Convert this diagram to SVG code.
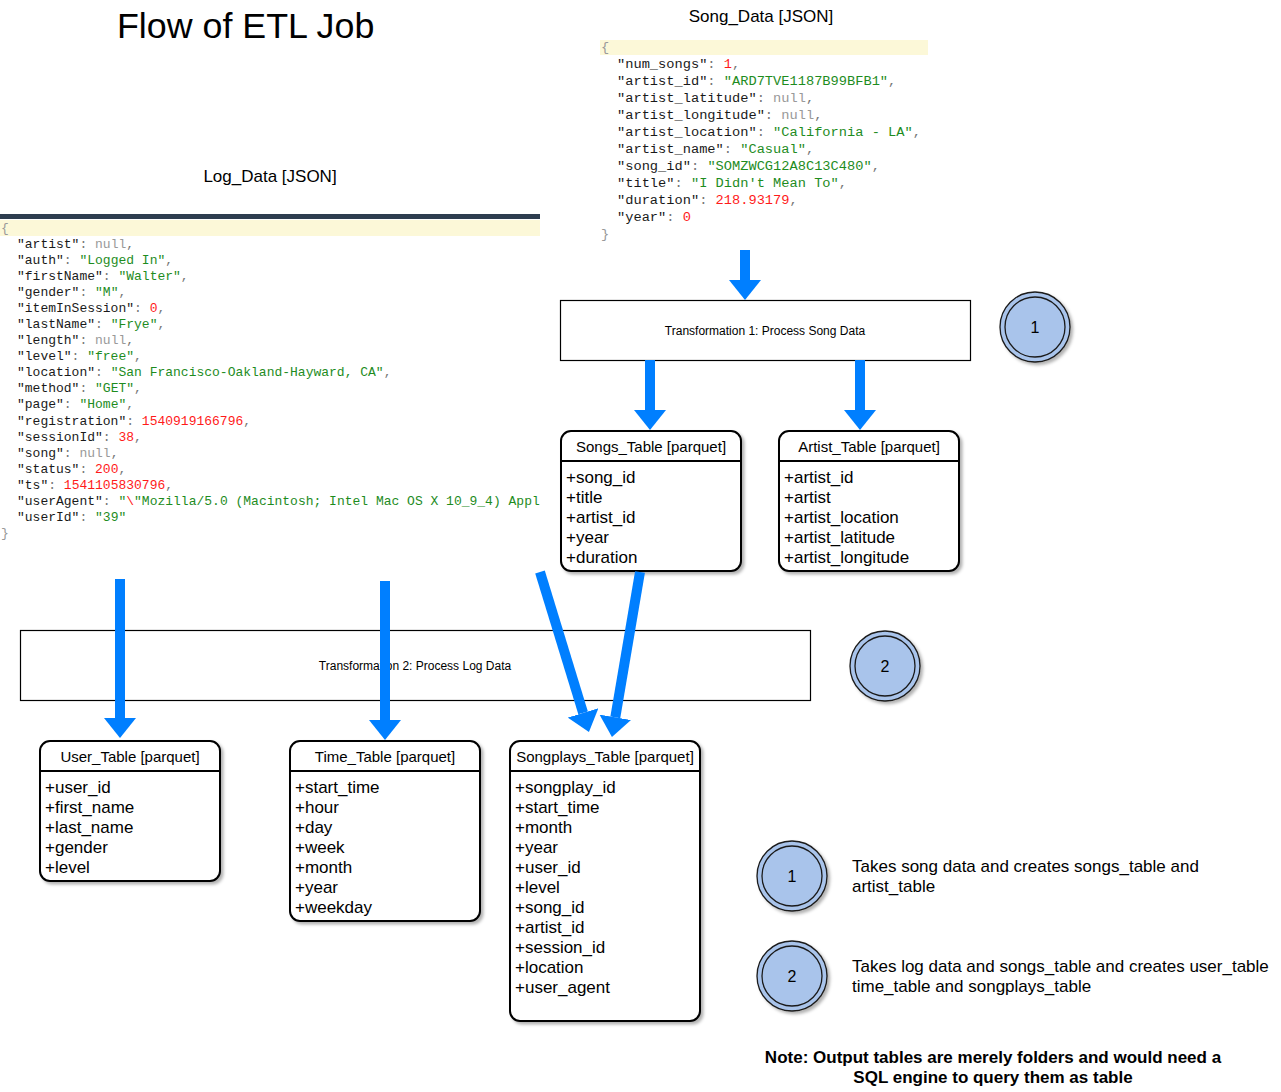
<svg xmlns="http://www.w3.org/2000/svg" width="1281" height="1092" viewBox="0 0 1281 1092">
<style>
.sans{font-family:"Liberation Sans",Arial,sans-serif;fill:#000}
.mono{font-family:"Liberation Mono","DejaVu Sans Mono",monospace;fill:#1a1a1a}
.pu{fill:#777}
.s{fill:#1e8c1e}
.n{fill:#ff1a1a}
.nl{fill:#999}
.br{fill:#999}
.box{fill:#fff;stroke:#000;stroke-width:1.2}
.tbl{fill:#fff;stroke:#000;stroke-width:2}
.hdr{font-family:"Liberation Sans",Arial,sans-serif;font-size:15px;text-anchor:middle;fill:#000}
.fld{font-family:"Liberation Sans",Arial,sans-serif;font-size:17px;fill:#000}
.circ{fill:#a9c4eb;stroke:#1a1a1a;stroke-width:1.3}
.cin{fill:none;stroke:#1a1a1a;stroke-width:1.3}
.num{font-family:"Liberation Sans",Arial,sans-serif;font-size:16px;text-anchor:middle;fill:#000}
.arr{stroke:#007fff;stroke-width:10;fill:none}
</style>
<defs>
<marker id="ah" viewBox="0 0 20 32" refX="0" refY="16" markerWidth="20" markerHeight="32" markerUnits="userSpaceOnUse" orient="auto">
<path d="M0,0 L20,16 L0,32 z" fill="#007fff"/>
</marker>
<filter id="sh" x="-10%" y="-10%" width="130%" height="130%">
<feDropShadow dx="2.5" dy="2.5" stdDeviation="1.5" flood-color="#000" flood-opacity="0.3"/>
</filter>
<clipPath id="logclip"><rect x="0" y="200" width="540" height="350"/></clipPath>
</defs>
<rect width="1281" height="1092" fill="#fff"/>

<g id="title"><text class="sans" x="117" y="38" font-size="35.8">Flow of ETL Job</text></g>

<g id="song-data">
<text class="sans" x="761" y="22" font-size="17" text-anchor="middle">Song_Data [JSON]</text>
<rect x="600" y="40" width="328" height="15" fill="#fcf8d8"/>
<g class="mono" font-size="13.7">
<text class="br" x="601" y="51">{</text>
<text x="617" y="68">"num_songs"<tspan class="pu">: </tspan><tspan class="n">1</tspan><tspan class="pu">,</tspan></text>
<text x="617" y="85">"artist_id"<tspan class="pu">: </tspan><tspan class="s">"ARD7TVE1187B99BFB1"</tspan><tspan class="pu">,</tspan></text>
<text x="617" y="102">"artist_latitude"<tspan class="pu">: </tspan><tspan class="nl">null</tspan><tspan class="pu">,</tspan></text>
<text x="617" y="119">"artist_longitude"<tspan class="pu">: </tspan><tspan class="nl">null</tspan><tspan class="pu">,</tspan></text>
<text x="617" y="136">"artist_location"<tspan class="pu">: </tspan><tspan class="s">"California - LA"</tspan><tspan class="pu">,</tspan></text>
<text x="617" y="153">"artist_name"<tspan class="pu">: </tspan><tspan class="s">"Casual"</tspan><tspan class="pu">,</tspan></text>
<text x="617" y="170">"song_id"<tspan class="pu">: </tspan><tspan class="s">"SOMZWCG12A8C13C480"</tspan><tspan class="pu">,</tspan></text>
<text x="617" y="187">"title"<tspan class="pu">: </tspan><tspan class="s">"I Didn't Mean To"</tspan><tspan class="pu">,</tspan></text>
<text x="617" y="204">"duration"<tspan class="pu">: </tspan><tspan class="n">218.93179</tspan><tspan class="pu">,</tspan></text>
<text x="617" y="221">"year"<tspan class="pu">: </tspan><tspan class="n">0</tspan></text>
<text class="br" x="601" y="238">}</text>
</g>
</g>

<g id="log-data">
<text class="sans" x="270" y="182" font-size="17" text-anchor="middle">Log_Data [JSON]</text>
<rect x="0" y="214" width="540" height="5" fill="#2e3d4f"/>
<rect x="0" y="220" width="540" height="16" fill="#fcf8d8"/>
<g class="mono" font-size="13" clip-path="url(#logclip)">
<text class="br" x="1" y="232">{</text>
<text x="17" y="248">"artist"<tspan class="pu">: </tspan><tspan class="nl">null</tspan><tspan class="pu">,</tspan></text>
<text x="17" y="264">"auth"<tspan class="pu">: </tspan><tspan class="s">"Logged In"</tspan><tspan class="pu">,</tspan></text>
<text x="17" y="280">"firstName"<tspan class="pu">: </tspan><tspan class="s">"Walter"</tspan><tspan class="pu">,</tspan></text>
<text x="17" y="296">"gender"<tspan class="pu">: </tspan><tspan class="s">"M"</tspan><tspan class="pu">,</tspan></text>
<text x="17" y="312">"itemInSession"<tspan class="pu">: </tspan><tspan class="n">0</tspan><tspan class="pu">,</tspan></text>
<text x="17" y="328">"lastName"<tspan class="pu">: </tspan><tspan class="s">"Frye"</tspan><tspan class="pu">,</tspan></text>
<text x="17" y="344">"length"<tspan class="pu">: </tspan><tspan class="nl">null</tspan><tspan class="pu">,</tspan></text>
<text x="17" y="360">"level"<tspan class="pu">: </tspan><tspan class="s">"free"</tspan><tspan class="pu">,</tspan></text>
<text x="17" y="376">"location"<tspan class="pu">: </tspan><tspan class="s">"San Francisco-Oakland-Hayward, CA"</tspan><tspan class="pu">,</tspan></text>
<text x="17" y="392">"method"<tspan class="pu">: </tspan><tspan class="s">"GET"</tspan><tspan class="pu">,</tspan></text>
<text x="17" y="408">"page"<tspan class="pu">: </tspan><tspan class="s">"Home"</tspan><tspan class="pu">,</tspan></text>
<text x="17" y="425">"registration"<tspan class="pu">: </tspan><tspan class="n">1540919166796</tspan><tspan class="pu">,</tspan></text>
<text x="17" y="441">"sessionId"<tspan class="pu">: </tspan><tspan class="n">38</tspan><tspan class="pu">,</tspan></text>
<text x="17" y="457">"song"<tspan class="pu">: </tspan><tspan class="nl">null</tspan><tspan class="pu">,</tspan></text>
<text x="17" y="473">"status"<tspan class="pu">: </tspan><tspan class="n">200</tspan><tspan class="pu">,</tspan></text>
<text x="17" y="489">"ts"<tspan class="pu">: </tspan><tspan class="n">1541105830796</tspan><tspan class="pu">,</tspan></text>
<text x="17" y="505">"userAgent"<tspan class="pu">: </tspan><tspan class="s">"<tspan class="n">\</tspan>"Mozilla/5.0 (Macintosh; Intel Mac OS X 10_9_4) Appl</tspan></text>
<text x="17" y="521">"userId"<tspan class="pu">: </tspan><tspan class="s">"39"</tspan></text>
<text class="br" x="1" y="537">}</text>
</g>
</g>

<g id="transformation-1">
<rect class="box" x="560.5" y="300.5" width="410" height="60"/>
<text class="sans" x="765" y="335" font-size="12" text-anchor="middle">Transformation 1: Process Song Data</text>
</g>

<g id="transformation-2">
<rect class="box" x="20.5" y="630.5" width="790" height="70"/>
<text class="sans" x="415" y="670" font-size="12" text-anchor="middle">Transformation 2: Process Log Data</text>
</g>

<g id="circle-1">
<circle class="circ" cx="1035" cy="327" r="35" filter="url(#sh)"/>
<circle class="cin" cx="1035" cy="327" r="30"/>
<text class="num" x="1035" y="333">1</text>
</g>
<g id="circle-2">
<circle class="circ" cx="885" cy="666" r="35" filter="url(#sh)"/>
<circle class="cin" cx="885" cy="666" r="30"/>
<text class="num" x="885" y="672">2</text>
</g>

<g id="songs-table">
<rect class="tbl" x="561" y="431" width="180" height="140" rx="10" filter="url(#sh)"/>
<line x1="561" y1="461" x2="741" y2="461" stroke="#000" stroke-width="2"/>
<text class="hdr" x="651" y="452">Songs_Table [parquet]</text>
<text class="fld" x="566" y="483">+song_id</text>
<text class="fld" x="566" y="503">+title</text>
<text class="fld" x="566" y="523">+artist_id</text>
<text class="fld" x="566" y="543">+year</text>
<text class="fld" x="566" y="563">+duration</text>
</g>

<g id="artist-table">
<rect class="tbl" x="779" y="431" width="180" height="140" rx="10" filter="url(#sh)"/>
<line x1="779" y1="461" x2="959" y2="461" stroke="#000" stroke-width="2"/>
<text class="hdr" x="869" y="452">Artist_Table [parquet]</text>
<text class="fld" x="784" y="483">+artist_id</text>
<text class="fld" x="784" y="503">+artist</text>
<text class="fld" x="784" y="523">+artist_location</text>
<text class="fld" x="784" y="543">+artist_latitude</text>
<text class="fld" x="784" y="563">+artist_longitude</text>
</g>

<g id="user-table">
<rect class="tbl" x="40" y="741" width="180" height="140" rx="10" filter="url(#sh)"/>
<line x1="40" y1="771" x2="220" y2="771" stroke="#000" stroke-width="2"/>
<text class="hdr" x="130" y="762">User_Table [parquet]</text>
<text class="fld" x="45" y="793">+user_id</text>
<text class="fld" x="45" y="813">+first_name</text>
<text class="fld" x="45" y="833">+last_name</text>
<text class="fld" x="45" y="853">+gender</text>
<text class="fld" x="45" y="873">+level</text>
</g>

<g id="time-table">
<rect class="tbl" x="290" y="741" width="190" height="180" rx="10" filter="url(#sh)"/>
<line x1="290" y1="771" x2="480" y2="771" stroke="#000" stroke-width="2"/>
<text class="hdr" x="385" y="762">Time_Table [parquet]</text>
<text class="fld" x="295" y="793">+start_time</text>
<text class="fld" x="295" y="813">+hour</text>
<text class="fld" x="295" y="833">+day</text>
<text class="fld" x="295" y="853">+week</text>
<text class="fld" x="295" y="873">+month</text>
<text class="fld" x="295" y="893">+year</text>
<text class="fld" x="295" y="913">+weekday</text>
</g>

<g id="songplays-table">
<rect class="tbl" x="510" y="741" width="190" height="280" rx="10" filter="url(#sh)"/>
<line x1="510" y1="771" x2="700" y2="771" stroke="#000" stroke-width="2"/>
<text class="hdr" x="605" y="762">Songplays_Table [parquet]</text>
<text class="fld" x="515" y="793">+songplay_id</text>
<text class="fld" x="515" y="813">+start_time</text>
<text class="fld" x="515" y="833">+month</text>
<text class="fld" x="515" y="853">+year</text>
<text class="fld" x="515" y="873">+user_id</text>
<text class="fld" x="515" y="893">+level</text>
<text class="fld" x="515" y="913">+song_id</text>
<text class="fld" x="515" y="933">+artist_id</text>
<text class="fld" x="515" y="953">+session_id</text>
<text class="fld" x="515" y="973">+location</text>
<text class="fld" x="515" y="993">+user_agent</text>
</g>

<g id="legend-1">
<circle class="circ" cx="792" cy="876" r="35" filter="url(#sh)"/>
<circle class="cin" cx="792" cy="876" r="30"/>
<text class="num" x="792" y="882">1</text>
<text class="sans" x="852" y="872" font-size="17">Takes song data and creates songs_table and</text>
<text class="sans" x="852" y="892" font-size="17">artist_table</text>
</g>
<g id="legend-2">
<circle class="circ" cx="792" cy="976" r="35" filter="url(#sh)"/>
<circle class="cin" cx="792" cy="976" r="30"/>
<text class="num" x="792" y="982">2</text>
<text class="sans" x="852" y="972" font-size="17">Takes log data and songs_table and creates user_table</text>
<text class="sans" x="852" y="992" font-size="17">time_table and songplays_table</text>
</g>

<g id="note">
<text class="sans" x="993" y="1063" font-size="17" font-weight="bold" text-anchor="middle">Note: Output tables are merely folders and would need a</text>
<text class="sans" x="993" y="1083" font-size="17" font-weight="bold" text-anchor="middle">SQL engine to query them as table</text>
</g>

<g id="connectors">
<line class="arr" x1="745" y1="250" x2="745" y2="280" marker-end="url(#ah)"/>
<line class="arr" x1="650" y1="360" x2="650" y2="410" marker-end="url(#ah)"/>
<line class="arr" x1="860" y1="360" x2="860" y2="410" marker-end="url(#ah)"/>
<line class="arr" x1="120" y1="579" x2="120" y2="718" marker-end="url(#ah)"/>
<line class="arr" x1="385" y1="581" x2="385" y2="720" marker-end="url(#ah)"/>
<line class="arr" x1="540" y1="572" x2="583.1" y2="712.9" marker-end="url(#ah)"/>
<line class="arr" x1="640" y1="572" x2="615.3" y2="717.3" marker-end="url(#ah)"/>
</g>
</svg>
